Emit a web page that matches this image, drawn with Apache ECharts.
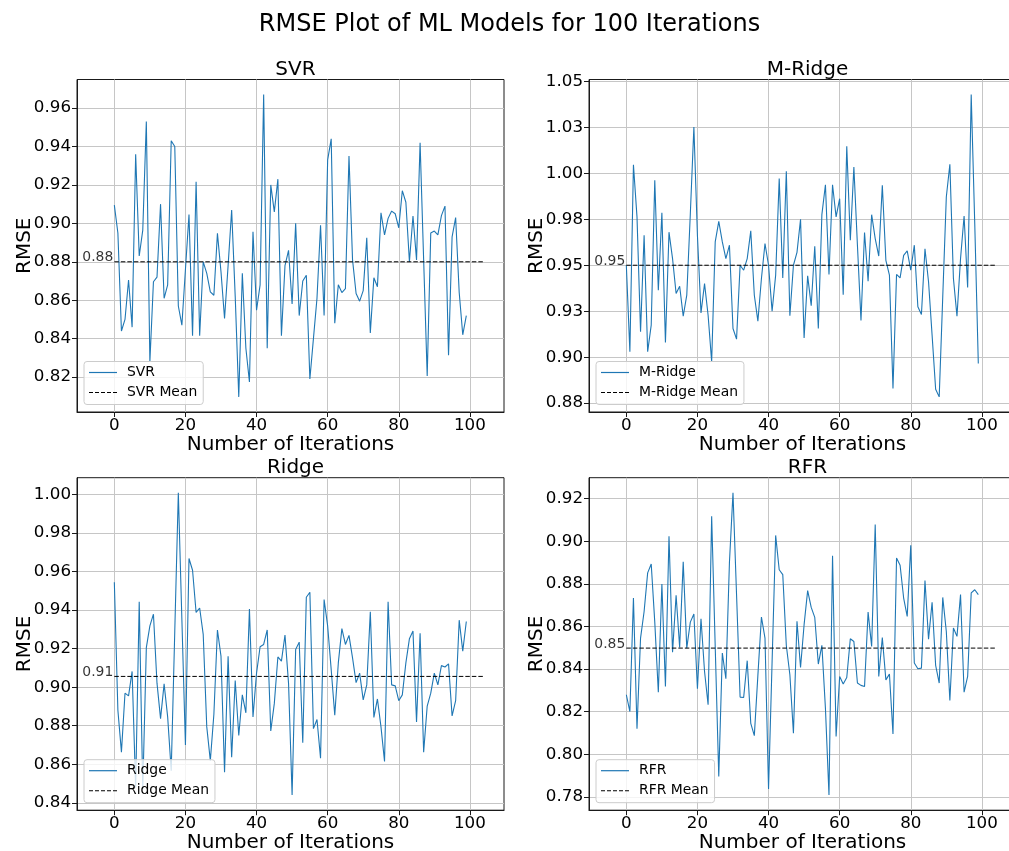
<!DOCTYPE html>
<html>
<head>
<meta charset="utf-8">
<title>RMSE Plot of ML Models for 100 Iterations</title>
<script src="https://cdn.jsdelivr.net/npm/echarts@6.0.0/dist/echarts.min.js"></script>
<style>
    html, body { margin: 0; padding: 0; background: #ffffff; }
    #chart { width: 1009px; height: 851px; }
</style>
</head>
<body>
<div id="chart"></div>
<script>
// --- DATA ---
const svrRmse = [
    0.9095, 0.895, 0.844, 0.850, 0.8705, 0.846, 0.936, 0.883, 0.8965, 0.953,
    0.828, 0.8696, 0.872, 0.910, 0.861, 0.868, 0.943, 0.940, 0.857, 0.847,
    0.876, 0.9046, 0.8415, 0.9217, 0.8415, 0.880, 0.874, 0.8644, 0.8626, 0.8948,
    0.8748, 0.8505, 0.878, 0.907, 0.862, 0.8097, 0.874, 0.835, 0.8175, 0.8956,
    0.8548, 0.868, 0.967, 0.835, 0.920, 0.906, 0.923, 0.8415, 0.878, 0.886,
    0.858, 0.900, 0.852, 0.870, 0.873, 0.819, 0.840, 0.861, 0.899, 0.852,
    0.933, 0.944, 0.848, 0.868, 0.864, 0.866, 0.935, 0.881, 0.8635, 0.8595,
    0.865, 0.8925, 0.843, 0.8717, 0.867, 0.9055, 0.894, 0.9026, 0.9064, 0.905,
    0.8977, 0.917, 0.911, 0.880, 0.9038, 0.881, 0.942, 0.881, 0.8206, 0.895,
    0.896, 0.894, 0.904, 0.909, 0.8314, 0.893, 0.903, 0.864, 0.842, 0.852
];
const mridgeRmse = [
    0.950, 0.9029, 1.0047, 0.9763, 0.9138, 0.9663, 0.903, 0.9174, 0.9962, 0.9364,
    0.9786, 0.908, 0.968, 0.9536, 0.9346, 0.9386, 0.9223, 0.9337, 0.978, 1.0252,
    0.966, 0.924, 0.940, 0.9228, 0.8975, 0.9627, 0.9739, 0.9627, 0.9536, 0.9609,
    0.9156, 0.9098, 0.950, 0.9473, 0.9536, 0.9687, 0.9337, 0.9196, 0.9428, 0.9618,
    0.950, 0.925, 0.9446, 0.9971, 0.9431, 1.0011, 0.9225, 0.950, 0.957, 0.975,
    0.9105, 0.9442, 0.928, 0.9603, 0.9156, 0.9775, 0.9938, 0.945, 0.9938, 0.9763,
    0.9862, 0.934, 1.0147, 0.9636, 1.0034, 0.9609, 0.920, 0.9678, 0.9413, 0.9775,
    0.9645, 0.955, 0.9935, 0.9527, 0.9446, 0.883, 0.945, 0.9431, 0.9554, 0.9578,
    0.9473, 0.9609, 0.9274, 0.9232, 0.959, 0.941, 0.912, 0.8826, 0.8784, 0.933,
    0.9871, 1.0049, 0.9428, 0.9223, 0.9536, 0.9768, 0.9379, 1.0428, 0.9725, 0.8966
];
const ridgeRmse = [
    0.9545, 0.888, 0.8663, 0.8969, 0.8955, 0.9082, 0.8479, 0.9444, 0.847, 0.9205,
    0.9318, 0.9379, 0.9021, 0.8837, 0.9017, 0.8846, 0.8566, 0.929, 1.0009, 0.935,
    0.870, 0.9668, 0.9607, 0.9388, 0.9411, 0.9274, 0.8794, 0.8619, 0.886, 0.9297,
    0.9161, 0.8558, 0.9161, 0.8636, 0.9035, 0.875, 0.896, 0.8867, 0.9406, 0.8846,
    0.9073, 0.921, 0.9222, 0.9297, 0.8773, 0.8916, 0.9157, 0.9135, 0.9271, 0.902,
    0.844, 0.9196, 0.9234, 0.8712, 0.9467, 0.9493, 0.8785, 0.8832, 0.8631, 0.9455,
    0.9318, 0.9091, 0.8855, 0.9126, 0.9304, 0.9222, 0.9269, 0.9152, 0.9024, 0.9073,
    0.8934, 0.9012, 0.9392, 0.8843, 0.8939, 0.8794, 0.8614, 0.9444, 0.9012, 0.9007,
    0.893, 0.896, 0.9126, 0.9252, 0.9292, 0.882, 0.928, 0.8663, 0.8902, 0.8969,
    0.9073, 0.9012, 0.9112, 0.9105, 0.9121, 0.8851, 0.893, 0.9348, 0.9187, 0.9341
];
const rfrRmse = [
    0.8279, 0.820, 0.8733, 0.8119, 0.8545, 0.867, 0.8851, 0.8893, 0.862, 0.8291,
    0.8799, 0.8318, 0.9023, 0.8479, 0.8746, 0.8501, 0.8903, 0.8498, 0.862, 0.8658,
    0.8307, 0.8636, 0.8388, 0.8232, 0.9117, 0.8506, 0.7895, 0.8475, 0.8354, 0.890,
    0.9227, 0.875, 0.8268, 0.8266, 0.8439, 0.8145, 0.8087, 0.837, 0.8644, 0.8545,
    0.7837, 0.8435, 0.9027, 0.8866, 0.8843, 0.851, 0.8373, 0.8098, 0.8624, 0.8407,
    0.8608, 0.8768, 0.8689, 0.8642, 0.8423, 0.8511, 0.8216, 0.7808, 0.8932, 0.8083,
    0.8365, 0.8329, 0.836, 0.8542, 0.8529, 0.8334, 0.8323, 0.8318, 0.8667, 0.8506,
    0.9078, 0.8365, 0.8548, 0.8349, 0.8376, 0.8095, 0.8921, 0.8887, 0.8733, 0.8647,
    0.8981, 0.8428, 0.8401, 0.8404, 0.8815, 0.854, 0.8713, 0.8417, 0.8334, 0.8736,
    0.8576, 0.8252, 0.8592, 0.8553, 0.8749, 0.8291, 0.8365, 0.8757, 0.8772, 0.8749
];

// mean lines (drawn from iteration 0 to 104) and their text labels
const meanValues = [0.880, 0.950, 0.9056, 0.8498];
const meanLabels = ['0.88', '0.95', '0.91', '0.85'];
const meanSpan = [0, 104];

// tick values and labels
const xTicks = [0, 20, 40, 60, 80, 100];
const svrTicks = [0.82, 0.84, 0.86, 0.88, 0.90, 0.92, 0.94, 0.96];
const svrTickLabels = ['0.82', '0.84', '0.86', '0.88', '0.90', '0.92', '0.94', '0.96'];
const mridgeTicks = [0.875, 0.900, 0.925, 0.950, 0.975, 1.000, 1.025, 1.050];
const mridgeTickLabels = ['0.88', '0.90', '0.93', '0.95', '0.98', '1.00', '1.03', '1.05'];
const ridgeTicks = [0.84, 0.86, 0.88, 0.90, 0.92, 0.94, 0.96, 0.98, 1.00];
const ridgeTickLabels = ['0.84', '0.86', '0.88', '0.90', '0.92', '0.94', '0.96', '0.98', '1.00'];
const rfrTicks = [0.78, 0.80, 0.82, 0.84, 0.86, 0.88, 0.90, 0.92];
const rfrTickLabels = ['0.78', '0.80', '0.82', '0.84', '0.86', '0.88', '0.90', '0.92'];

// --- LAYOUT ---
const FONT = 'DejaVu Sans';
const BLUE = '#1f77b4';
const GRID_W = 427, GRID_H = 332.5;
const X_RANGE = [-10.5, 109.6];

// legend glyphs: plain line and dashed line (28px wide)
const SOLID_ICON = 'path://M0,0h28v1.2h-28z';
const DASH_ICON = 'path://M0,0h4v1h-4zM6,0h4v1h-4zM12,0h4v1h-4zM18,0h4v1h-4zM24,0h4v1h-4z';

const panels = [
    { name: 'SVR',     values: svrRmse,    ticks: svrTicks,    labels: svrTickLabels,    left: 77,  top: 79.5 },
    { name: 'M-Ridge', values: mridgeRmse, ticks: mridgeTicks, labels: mridgeTickLabels, left: 589, top: 79.5 },
    { name: 'Ridge',   values: ridgeRmse,  ticks: ridgeTicks,  labels: ridgeTickLabels,  left: 77,  top: 477.7 },
    { name: 'RFR',     values: rfrRmse,    ticks: rfrTicks,    labels: rfrTickLabels,    left: 589, top: 477.7 }
];

// matplotlib style autoscale: 5% margin on each side
function paddedRange(values) {
    const lo = Math.min(...values), hi = Math.max(...values);
    const pad = (hi - lo) * 0.05;
    return [lo - pad, hi + pad];
}

function tickLabelFor(p, v) {
    let best = 0;
    p.ticks.forEach((t, i) => { if (Math.abs(t - v) < Math.abs(p.ticks[best] - v)) best = i; });
    return p.labels[best];
}

const axisText = { color: '#000', fontFamily: FONT, fontSize: 16.7 };
const gridLine = { show: true, lineStyle: { color: '#c6c6c6', width: 1 } };

const option = {
    animation: false,
    textStyle: { fontFamily: FONT },
    title: [
        { text: 'RMSE Plot of ML Models for 100 Iterations', left: 504.5, top: 8, textAlign: 'center',
          textStyle: { fontFamily: FONT, fontSize: 24, fontWeight: 'normal', color: '#000' } }
    ].concat(panels.map(p => ({
        text: p.name, left: p.left + GRID_W / 2, top: p.top - 25, textAlign: 'center',
        textStyle: { fontFamily: FONT, fontSize: 20, fontWeight: 'normal', color: '#000' }
    }))),
    grid: panels.map(p => ({
        left: p.left, top: p.top, width: GRID_W, height: GRID_H,
        outerBoundsMode: 'none', containLabel: false,
        show: true, borderColor: '#1a1a1a', borderWidth: 1, backgroundColor: 'transparent'
    })),
    xAxis: panels.map((p, k) => ({
        type: 'value', gridIndex: k, min: X_RANGE[0], max: X_RANGE[1],
        name: 'Number of Iterations', nameLocation: 'middle', nameGap: 22,
        nameTextStyle: { color: '#000', fontFamily: FONT, fontSize: 20 },
        axisLine: { show: true, onZero: false, lineStyle: { color: '#1a1a1a', width: 1 } },
        axisTick: { show: true, length: 5, customValues: xTicks, lineStyle: { color: '#1a1a1a' } },
        axisLabel: Object.assign({ margin: 5, customValues: xTicks }, axisText),
        splitLine: gridLine
    })),
    yAxis: panels.map((p, k) => {
        const range = paddedRange(p.values);
        return {
            type: 'value', gridIndex: k, min: range[0], max: range[1],
            name: 'RMSE', nameLocation: 'middle', nameGap: 42, nameRotate: 90, nameMoveOverlap: false,
            nameTextStyle: { color: '#000', fontFamily: FONT, fontSize: 20 },
            axisLine: { show: true, onZero: false, lineStyle: { color: '#1a1a1a', width: 1 } },
            axisTick: { show: true, length: 5, customValues: p.ticks, lineStyle: { color: '#1a1a1a' } },
            axisLabel: Object.assign({ margin: 6, customValues: p.ticks,
                formatter: v => tickLabelFor(p, v) }, axisText),
            splitLine: gridLine
        };
    }),
    legend: panels.map(p => ({
        data: [{ name: p.name, icon: SOLID_ICON }, { name: p.name + ' Mean', icon: DASH_ICON }],
        orient: 'vertical', left: p.left + 7, top: p.top + GRID_H - 7 - 43.5,
        itemWidth: 28, itemHeight: 14, itemGap: 6, symbolKeepAspect: true,
        padding: [4, 6, 5, 5], selectedMode: false, z: 20,
        backgroundColor: 'rgba(255,255,255,0.8)', borderColor: '#cccccc', borderWidth: 1, borderRadius: 3,
        textStyle: { color: '#000', fontFamily: FONT, fontSize: 13.9, padding: [0, 0, 0, 5] }
    })),
    series: []
};

panels.forEach((p, k) => {
    option.series.push({
        name: p.name, type: 'line', xAxisIndex: k, yAxisIndex: k,
        data: p.values.map((v, i) => [i, v]),
        symbol: 'none', lineStyle: { color: BLUE, width: 1.1 }, itemStyle: { color: BLUE }, z: 3
    });
    option.series.push({
        name: p.name + ' Mean', type: 'line', xAxisIndex: k, yAxisIndex: k,
        data: meanSpan.map(x => [x, meanValues[k]]),
        symbol: 'none', lineStyle: { color: '#000', width: 1, type: [4.5, 2] }, itemStyle: { color: '#000' }, z: 4
    });
    option.series.push({
        type: 'scatter', xAxisIndex: k, yAxisIndex: k, silent: true,
        data: [[-9, meanValues[k]]], symbolSize: 0, itemStyle: { color: 'transparent' },
        label: { show: true, formatter: meanLabels[k], position: [0, 3], align: 'left', verticalAlign: 'bottom',
                 color: '#000', fontFamily: FONT, fontSize: 13.9 },
        z: 5
    });
});

const chart = echarts.init(document.getElementById('chart'), null, { renderer: 'canvas' });
chart.setOption(option);
</script>
</body>
</html>
